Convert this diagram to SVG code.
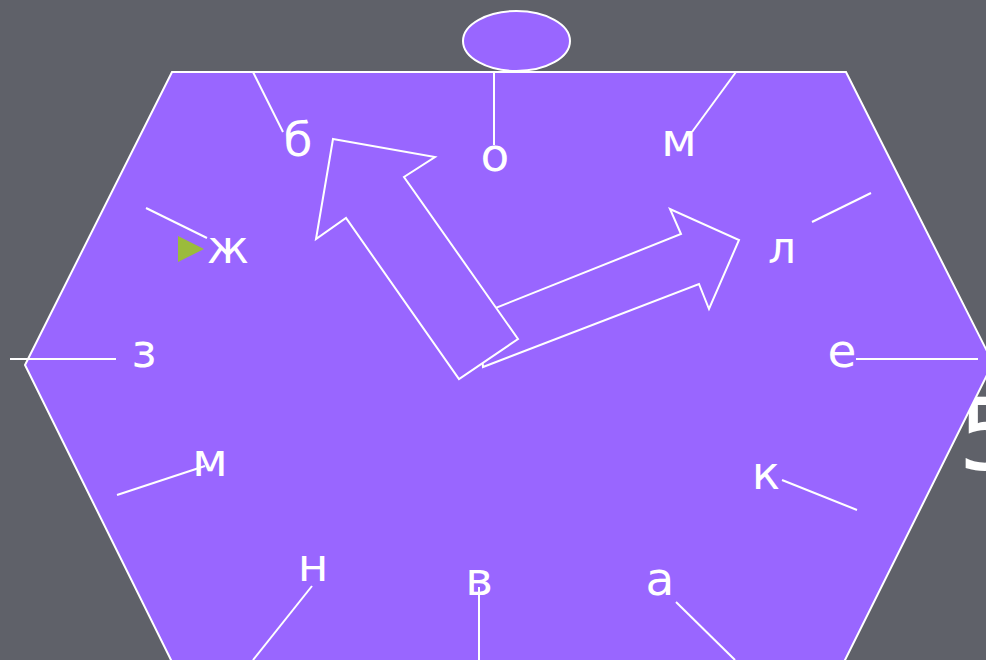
<svg xmlns="http://www.w3.org/2000/svg" width="986" height="660" viewBox="0 0 986 660">
<style>
.shape{fill:#9966FF;stroke:#FFFFFF;stroke-width:2}
.ln{stroke:#FFFFFF;stroke-width:2;fill:none}
.t{font-family:"DejaVu Sans",Verdana,sans-serif;font-size:47px;fill:#FFFFFF;text-anchor:middle}
</style>
<rect width="986" height="660" fill="#5F6169"/>
<text x="958" y="470" style="font-family:'DejaVu Sans',Verdana,sans-serif;font-size:100px;fill:#FFFFFF">5</text>
<g id="face">
<polygon class="shape" points="172,72 846,72 993,363 843,664 173,664 25,365"/>
</g>
<g id="knob">
<ellipse class="shape" cx="516.5" cy="41" rx="53.5" ry="30"/>
</g>
<g id="connectors">
<line class="ln" x1="253" y1="72" x2="283" y2="132"/>
<line class="ln" x1="494" y1="72" x2="494" y2="145"/>
<line class="ln" x1="736" y1="72" x2="692" y2="132"/>
<line class="ln" x1="871" y1="193" x2="812" y2="222"/>
<line class="ln" x1="856" y1="359" x2="978" y2="359"/>
<line class="ln" x1="782" y1="480" x2="857" y2="510"/>
<line class="ln" x1="676" y1="602" x2="735" y2="660"/>
<line class="ln" x1="479" y1="587" x2="479" y2="660"/>
<line class="ln" x1="312" y1="586" x2="253" y2="660"/>
<line class="ln" x1="117" y1="495" x2="205" y2="466"/>
<line class="ln" x1="10" y1="359" x2="116" y2="359"/>
<line class="ln" x1="146" y1="208" x2="207" y2="238"/>
</g>
<g id="minute-hand">
<polygon class="shape" points="478,315 681,234 670,209 739,240 709,309 699,284 483,367"/>
</g>
<g id="hour-hand">
<polygon class="shape" points="333,139 435,157 404,177 518,339 459,379 346,218 316,239"/>
</g>
<g id="bullet">
<polygon points="178,236 204,249 178,262" fill="#9BBB3B"/>
</g>
<g id="labels">
<text class="t" x="298" y="156">б</text>
<text class="t" x="495" y="171">о</text>
<text class="t" x="679" y="156">м</text>
<text class="t" x="228" y="263">ж</text>
<text class="t" x="782" y="263" style="font-size:44px">л</text>
<text class="t" x="144" y="367">з</text>
<text class="t" x="842" y="367">е</text>
<text class="t" x="210" y="476">м</text>
<text class="t" x="766" y="489">к</text>
<text class="t" x="313" y="581">н</text>
<text class="t" x="479" y="595">в</text>
<text class="t" x="660" y="595">а</text>
</g>
</svg>
